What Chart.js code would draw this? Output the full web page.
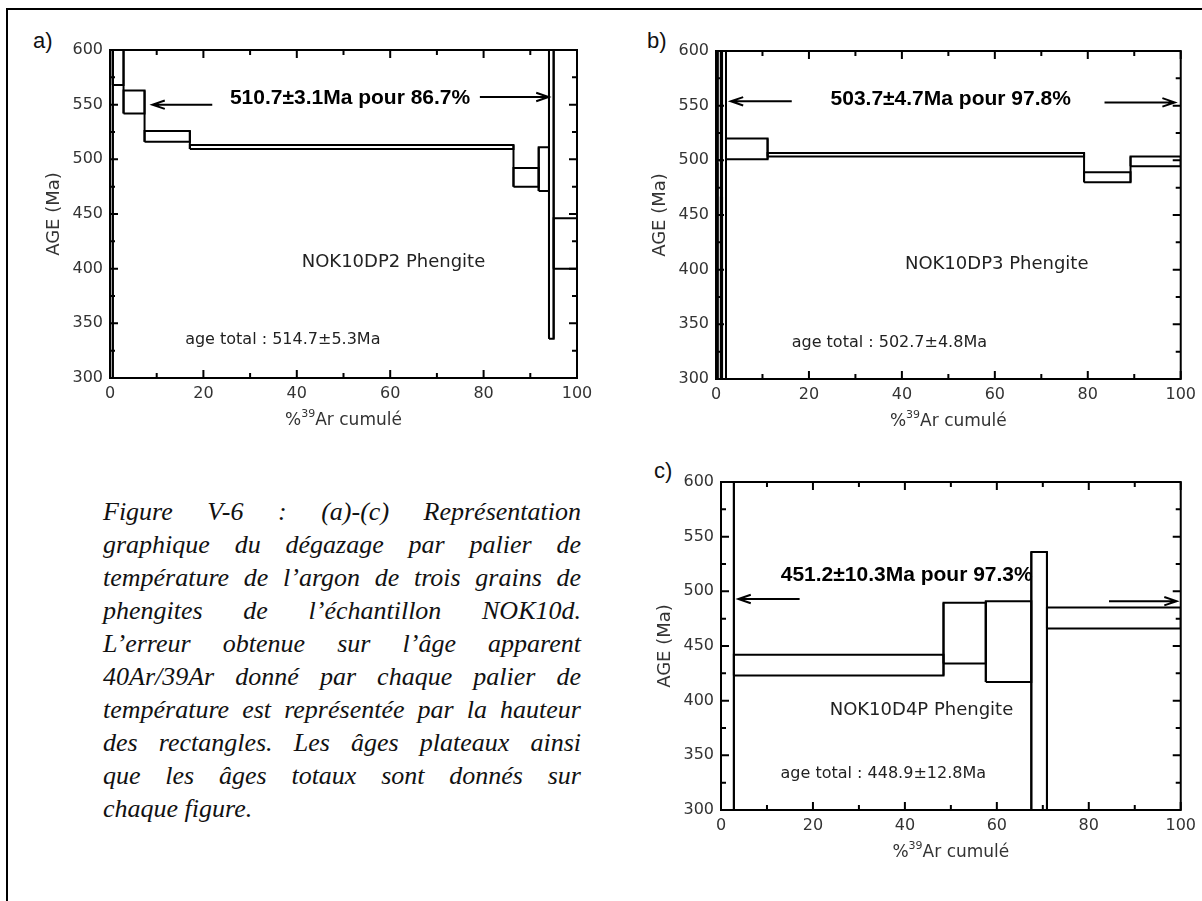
<!DOCTYPE html>
<html><head><meta charset="utf-8">
<script src="https://cdn.jsdelivr.net/npm/chart.js@4/dist/chart.umd.min.js"></script>
<style>
html,body{margin:0;padding:0;background:#fff;}
body{width:1202px;height:901px;position:relative;overflow:hidden;}
canvas{position:absolute;}
.panel{position:absolute;font:22px 'Liberation Sans Narrow','Liberation Sans',Arial,sans-serif;color:#111;line-height:22px;}
#frameTop{position:absolute;left:6px;top:8px;width:1196px;height:2px;background:#000;}
#frameLeft{position:absolute;left:6px;top:8px;width:2px;height:893px;background:#000;}
#caption{position:absolute;left:103px;top:495px;width:478px;font:italic 26px 'Liberation Serif','Times New Roman',serif;line-height:33px;color:#111;}
#caption div{text-align:justify;text-align-last:justify;}
#caption div.last{text-align:left;text-align-last:left;}
</style></head>
<body>
<div id="frameTop"></div><div id="frameLeft"></div>
<div class="panel" style="left:33px;top:30px;">a)</div>
<div class="panel" style="left:647px;top:30px;">b)</div>
<div class="panel" style="left:654px;top:460px;">c)</div>
<canvas id="ca" width="600" height="450" style="left:0;top:0;"></canvas>
<canvas id="cb" width="602" height="450" style="left:600px;top:0;"></canvas>
<canvas id="cc" width="602" height="461" style="left:600px;top:440px;"></canvas>
<div id="caption">
<div>Figure V-6 : (a)-(c) Représentation</div>
<div>graphique du dégazage par palier de</div>
<div>température de l’argon de trois grains de</div>
<div>phengites de l’échantillon NOK10d.</div>
<div>L’erreur obtenue sur l’âge apparent</div>
<div>40Ar/39Ar donné par chaque palier de</div>
<div>température est représentée par la hauteur</div>
<div>des rectangles. Les âges plateaux ainsi</div>
<div>que les âges totaux sont donnés sur</div>
<div class="last">chaque figure.</div>
</div>
<script>
// ---- data ----
const xTickValues = [0, 20, 40, 60, 80, 100];
const yTickValues = [300, 350, 400, 450, 500, 550, 600];

// chart a : NOK10DP2  (step boundaries in cumulative %39Ar, ages in Ma)
const aSteps   = [0, 0.6, 2.9, 7.4, 17.1, 86.4, 91.8, 94.0, 95.0, 100];
const aAgeLow  = [250, 568, 542, 516, 509.5, 475, 471, 336, 400];
const aAgeHigh = [650, 650, 563, 526, 513, 492, 511, 650, 446];

// chart b : NOK10DP3
const bSteps   = [0, 0.35, 1.05, 1.3, 2.15, 11.1, 79.2, 89.2, 100];
const bAgeLow  = [250, 500, 250, 250, 501, 503.5, 480, 494.5];
const bAgeHigh = [497, 650, 466, 650, 520, 506.8, 489, 503.5];

// chart c : NOK10D4P
const cSteps   = [0, 2.8, 48.4, 57.6, 67.5, 70.9, 100];
const cAgeLow  = [250, 423, 434, 417, 250, 466];
const cAgeHigh = [650, 442, 489.5, 491, 536, 485.3];

const plateauTexts = ['510.7±3.1Ma pour 86.7%', '503.7±4.7Ma pour 97.8%', '451.2±10.3Ma pour 97.3%'];
const sampleNames  = ['NOK10DP2 Phengite', 'NOK10DP3 Phengite', 'NOK10D4P Phengite'];
const totalAges    = ['age total : 514.7±5.3Ma', 'age total : 502.7±4.8Ma', 'age total : 448.9±12.8Ma'];

// ---- drawing ----
const lineStyle = {
  showLine: true, borderColor: '#000', borderWidth: 2, pointRadius: 0, pointHoverRadius: 0,
  tension: 0, fill: false, clip: 0, borderJoinStyle: 'miter'
};
function spectrumDatasets(steps, lo, hi) {
  const ds = [];
  for (let i = 0; i < lo.length; i++) {
    const x0 = steps[i], x1 = steps[i + 1];
    ds.push(Object.assign({
      data: [{x: x0, y: lo[i]}, {x: x1, y: lo[i]}, {x: x1, y: hi[i]}, {x: x0, y: hi[i]}, {x: x0, y: lo[i]}]
    }, lineStyle));
  }
  // vertical connectors between successive steps
  for (let i = 1; i < lo.length; i++) {
    const xb = steps[i];
    ds.push(Object.assign({
      data: [{x: xb, y: Math.min(lo[i - 1], lo[i])}, {x: xb, y: Math.max(hi[i - 1], hi[i])}]
    }, lineStyle));
  }
  return ds;
}

const annotPlugin = {
  id: 'annot',
  afterDraw(chart, args, o) {
    const {ctx, chartArea: ca} = chart;
    const xs = chart.scales.x, ys = chart.scales.y;
    const X = v => xs.getPixelForValue(v), Y = v => ys.getPixelForValue(v);
    ctx.save();
    ctx.strokeStyle = '#000';
    ctx.lineWidth = 2;
    ctx.strokeRect(ca.left, ca.top, ca.right - ca.left, ca.bottom - ca.top);
    ctx.beginPath();
    for (let v = 0; v <= 100; v += 10) {
      const p = X(v), len = v % 20 === 0 ? 8 : 5;
      ctx.moveTo(p, ca.bottom); ctx.lineTo(p, ca.bottom - len);
      ctx.moveTo(p, ca.top); ctx.lineTo(p, ca.top + len);
    }
    for (let v = 300; v <= 600; v += 25) {
      const p = Y(v), len = v % 50 === 0 ? 8 : 5;
      ctx.moveTo(ca.left, p); ctx.lineTo(ca.left + len, p);
      ctx.moveTo(ca.right, p); ctx.lineTo(ca.right - len, p);
    }
    ctx.stroke();
    for (const a of o.arrows) {
      const x1 = X(a[0]), y1 = Y(a[1]), x2 = X(a[2]), y2 = Y(a[3]);
      const ang = Math.atan2(y2 - y1, x2 - x1);
      ctx.beginPath();
      ctx.moveTo(x1, y1); ctx.lineTo(x2, y2);
      ctx.moveTo(x2 - 13 * Math.cos(ang - 0.33), y2 - 13 * Math.sin(ang - 0.33));
      ctx.lineTo(x2, y2);
      ctx.lineTo(x2 - 13 * Math.cos(ang + 0.33), y2 - 13 * Math.sin(ang + 0.33));
      ctx.stroke();
    }
    ctx.textAlign = 'center';
    ctx.textBaseline = 'middle';
    ctx.fillStyle = '#000';
    ctx.font = 'bold 21px "Liberation Sans", Arial, sans-serif';
    ctx.fillText(plateauTexts[o.idx], X(o.plateau[0]), Y(o.plateau[1]));
    ctx.fillStyle = '#222';
    ctx.font = '18px "DejaVu Sans", sans-serif';
    ctx.fillText(sampleNames[o.idx], X(o.sample[0]), Y(o.sample[1]));
    ctx.font = '16px "DejaVu Sans", sans-serif';
    ctx.fillText(totalAges[o.idx], X(o.total[0]), Y(o.total[1]));
    ctx.fillStyle = '#333';
    ctx.save();
    ctx.translate(ca.left - 56, (ca.top + ca.bottom) / 2);
    ctx.rotate(-Math.PI / 2);
    ctx.font = '18px "DejaVu Sans", sans-serif';
    ctx.fillText('AGE (Ma)', 0, 0);
    ctx.restore();
    const ty = ca.bottom + 43;
    ctx.font = '17px "DejaVu Sans", sans-serif';
    const w1 = ctx.measureText('%').width, w3 = ctx.measureText('Ar cumulé').width;
    ctx.font = '11px "DejaVu Sans", sans-serif';
    const w2 = ctx.measureText('39').width;
    const sx = (ca.left + ca.right) / 2 - (w1 + w2 + w3) / 2;
    ctx.textAlign = 'left';
    ctx.font = '17px "DejaVu Sans", sans-serif';
    ctx.fillText('%', sx, ty);
    ctx.font = '11px "DejaVu Sans", sans-serif';
    ctx.fillText('39', sx + w1, ty - 7);
    ctx.font = '17px "DejaVu Sans", sans-serif';
    ctx.fillText('Ar cumulé', sx + w1 + w2, ty);
    ctx.restore();
  }
};

function build(id, steps, lo, hi, yWidth, pad, ann) {
  const tickFont = {family: '"DejaVu Sans", sans-serif', size: 16};
  return new Chart(document.getElementById(id), {
    type: 'scatter',
    data: {datasets: spectrumDatasets(steps, lo, hi)},
    options: {
      responsive: false, animation: false, devicePixelRatio: 1,
      layout: {padding: pad},
      plugins: {legend: {display: false}, tooltip: {enabled: false}, annot: ann},
      scales: {
        x: {
          type: 'linear', min: 0, max: 100,
          afterBuildTicks: s => { s.ticks = xTickValues.map(v => ({value: v})); },
          afterFit: s => { s.height = 60; },
          ticks: {font: tickFont, color: '#333', padding: 6, maxRotation: 0, autoSkip: false},
          grid: {display: false, drawTicks: false}, border: {display: false}
        },
        y: {
          type: 'linear', min: 300, max: 600,
          afterBuildTicks: s => { s.ticks = yTickValues.map(v => ({value: v})); },
          afterFit: s => { s.width = yWidth; },
          ticks: {font: tickFont, color: '#333', padding: 7, autoSkip: false},
          grid: {display: false, drawTicks: false}, border: {display: false}
        }
      }
    },
    plugins: [annotPlugin]
  });
}

build('ca', aSteps, aAgeLow, aAgeHigh, 110, {left: 0, right: 23, top: 50, bottom: 12}, {
  idx: 0, plateau: [51.4, 556], sample: [60.7, 406], total: [37, 334.5],
  arrows: [[21.9, 550, 9.1, 550], [79.2, 557, 93.9, 557]]
});
build('cb', bSteps, bAgeLow, bAgeHigh, 116, {left: 0, right: 19, top: 51, bottom: 11}, {
  idx: 1, plateau: [50.5, 556], sample: [60.4, 405], total: [37.3, 333],
  arrows: [[16.3, 554, 3.2, 554], [83.6, 553, 98.7, 553]]
});
build('cc', cSteps, cAgeLow, cAgeHigh, 121, {left: 0, right: 16, top: 42, bottom: 31}, {
  idx: 2, plateau: [40.4, 514.6], sample: [43.6, 391.6], total: [35.3, 333],
  arrows: [[17.1, 493, 3.8, 493], [84.4, 491, 99.1, 491]]
});
</script>
</body></html>
